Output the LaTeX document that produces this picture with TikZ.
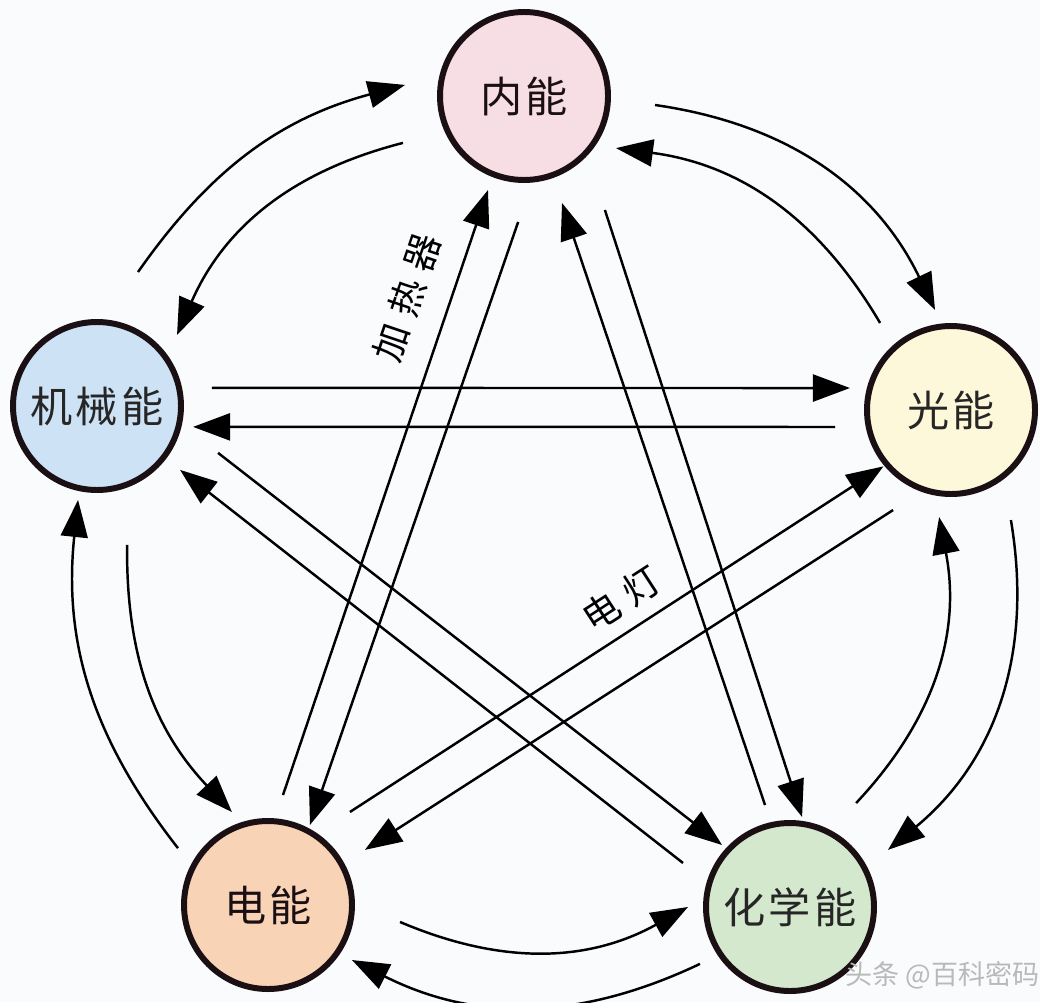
\documentclass[tikz,border=0pt]{standalone}
\usepackage{fontspec}
\newfontfamily\cjk[LetterSpace=8]{Noto Sans CJK SC}
\newfontfamily\cjkthua[LetterSpace=30]{Noto Sans CJK SC}
\newfontfamily\cjkgoc{Noto Sans CJK SC}
\usetikzlibrary{arrows.meta,calc}

\definecolor{nen}{HTML}{F9FBFD}
\definecolor{vien}{HTML}{1A1014}
\definecolor{hong}{HTML}{F6DEE4}
\definecolor{xanhduong}{HTML}{CDE2F5}
\definecolor{vang}{HTML}{FEF8DA}
\definecolor{cam}{HTML}{F9D3B6}
\definecolor{xanhla}{HTML}{D4E8CD}

\begin{document}
\begin{tikzpicture}[>={Triangle[length=3.7mm,width=2.7mm]}, scale=1,
    nang/.style={circle, draw=vien, line width=1.7pt, minimum size=1.68cm,
        inner sep=0pt, font=\cjk\fontsize{12}{15}\selectfont},
    muiten/.style={->, line width=0.7pt},
    nhan/.style={font=\cjkthua\fontsize{10.5}{12}\selectfont, inner sep=0pt}]

    \useasboundingbox (0,0) rectangle (10.4,-10.02);
    \fill[nen] (0,0) rectangle (10.4,-10.02);

    % =================================================================
    % NĂM DẠNG NĂNG LƯỢNG
    % =================================================================
    \node[nang, fill=hong, text=vien]          (noinang)   at (5.24,-0.96) {内能};
    \node[nang, fill=xanhduong, text=black!85] (conang)    at (0.97,-4.06) {机械能};
    \node[nang, fill=vang, text=black!85]      (quangnang) at (9.51,-4.10) {光能};
    \node[nang, fill=cam, text=vien]           (diennang)  at (2.68,-9.05) {电能};
    \node[nang, fill=xanhla, text=black!85]    (hoanang)   at (7.90,-9.07) {化学能};

    % =================================================================
    % MŨI TÊN CONG GIỮA HAI HÌNH KỀ NHAU
    % =================================================================
    \foreach \a/\b/\ra/\ta/\rb/\tb/\u in {
        conang/noinang/1.401/37.0/1.195/-41.3/20,
        noinang/conang/1.298/-14.8/1.070/5.6/-26,
        noinang/quangnang/1.313/32.4/1.013/-44.6/28,
        quangnang/noinang/1.123/-14.5/1.057/6.8/-26,
        quangnang/hoanang/1.253/46.5/1.134/-41.8/30,
        hoanang/quangnang/1.232/-14.5/1.077/11.6/-27,
        hoanang/diennang/1.065/32.5/1.004/-33.0/26,
        diennang/hoanang/1.331/-7.1/1.020/0.2/-26,
        diennang/conang/1.065/38.8/0.959/-30.3/22,
        conang/diennang/1.422/-6.7/0.997/2.3/-22}
        \draw[muiten] ($(\a)!\ra cm!\ta:(\b)$) to[bend left=\u] ($(\b)!\rb cm!\tb:(\a)$);

    % =================================================================
    % MŨI TÊN THẲNG (NGÔI SAO Ở GIỮA)
    % =================================================================
    \foreach \a/\b/\ra/\ta/\rb/\tb in {
        conang/quangnang/1.164/9.2/1.034/-12.0,
        quangnang/conang/1.172/8.6/0.983/-12.0,
        noinang/diennang/1.261/14.9/0.904/-10.1,
        hoanang/noinang/1.050/-4.4/1.135/1.4,
        noinang/hoanang/1.398/17.2/0.908/-25.8,
        quangnang/diennang/1.156/24.0/1.115/-6.3,
        conang/hoanang/1.298/14.7/0.920/-6.5,
        hoanang/conang/1.157/13.5/1.048/-1.7}
        \draw[muiten] ($(\a)!\ra cm!\ta:(\b)$) -- ($(\b)!\rb cm!\tb:(\a)$);

    % Hai mũi tên có ghi chú
    \draw[muiten] ($(diennang)!1.110cm!9.8:(noinang)$) --
        node[nhan, sloped, above=2.4mm, pos=0.8] {加热器}
        ($(noinang)!1.007cm!-3.4:(diennang)$);
    \draw[muiten] ($(diennang)!1.240cm!12.7:(quangnang)$) --
        node[nhan, sloped, above=1.3mm, pos=0.54] {电灯}
        ($(quangnang)!0.880cm!3.9:(diennang)$);

    % Dòng chữ góc dưới
    \node[anchor=east, inner sep=0pt, text=gray!55,
        font=\cjkgoc\fontsize{7.7}{9}\selectfont] (thuonghieu) at (10.40,-9.75) {头条 @百科密码};

\end{tikzpicture}
\end{document}
